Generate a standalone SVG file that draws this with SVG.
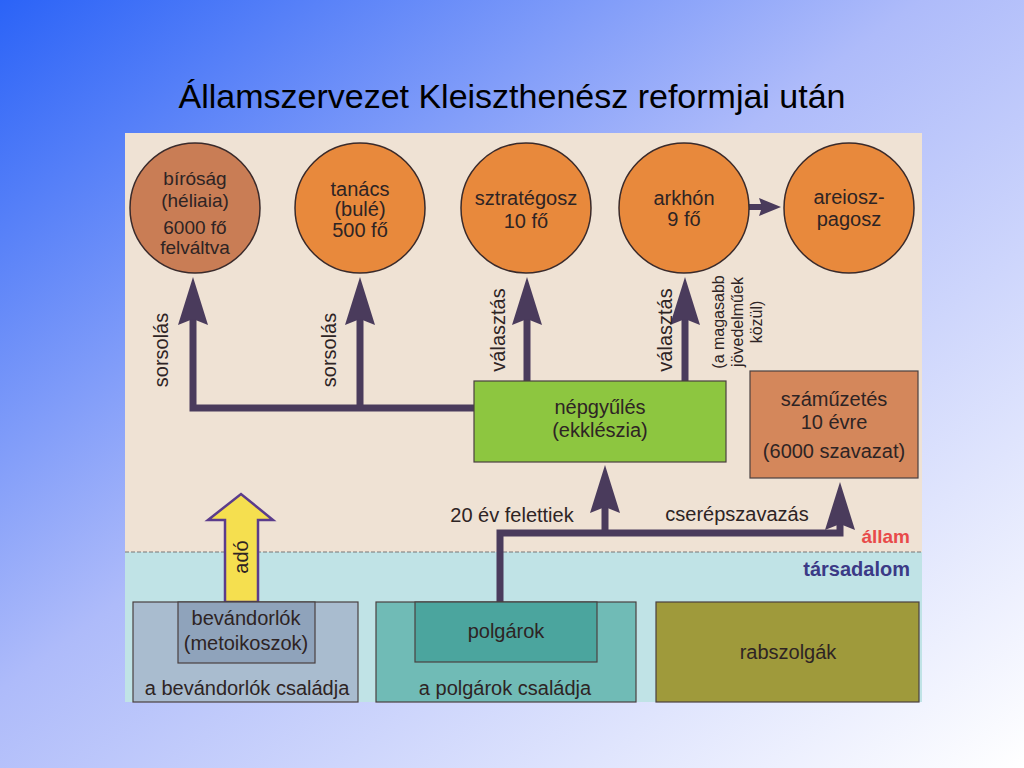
<svg xmlns="http://www.w3.org/2000/svg" width="1024" height="768" viewBox="0 0 1024 768">
<style>
text{font-family:"Liberation Sans",Arial,sans-serif;fill:#2e2424;text-anchor:middle}
.t{font-size:20px}
.u{font-size:19px}
.s{font-size:16px}
.c{stroke:#3a2a2a;stroke-width:1.5}
.b{stroke:#4a4040;stroke-width:1.2}
.w{fill:none;stroke:#4a3b5c;stroke-width:7;stroke-linejoin:miter}
</style>
<defs>
<linearGradient id="bg" x1="0" y1="0" x2="1" y2="1">
<stop offset="0" stop-color="#2b63f7"/>
<stop offset="0.45" stop-color="#aebbfa"/>
<stop offset="1" stop-color="#ffffff"/>
</linearGradient>
<marker id="ah" viewBox="0 0 48 30" refX="28" refY="15" markerWidth="48" markerHeight="30" markerUnits="userSpaceOnUse" orient="auto">
<path d="M0,0 L48,15 L0,30 L6,15 z" fill="#4a3b5c"/>
</marker>
<marker id="ahs" viewBox="0 0 22 18" refX="12" refY="9" markerWidth="22" markerHeight="18" markerUnits="userSpaceOnUse" orient="auto">
<path d="M0,0 L22,9 L0,18 L3,9 z" fill="#4a3b5c"/>
</marker>
</defs>
<rect width="1024" height="768" fill="url(#bg)"/>
<text x="512" y="108" style="font-size:34px;fill:#000">Államszervezet Kleiszthenész reformjai után</text>

<g id="panel">
<rect x="125" y="133" width="797" height="569" fill="#efe2d4"/>
<rect x="125" y="552" width="797" height="150" fill="#c0e3e6"/>
<line x1="125" y1="552" x2="922" y2="552" stroke="#777" stroke-width="1" stroke-dasharray="4 2"/>
<text x="910" y="543" style="text-anchor:end;font-size:19px;font-weight:bold;fill:#e84a4a">állam</text>
<text x="910" y="576" style="text-anchor:end;font-size:20px;font-weight:bold;fill:#3b3a86">társadalom</text>
</g>

<g id="connectors">
<path class="w" d="M474,408 H193 V297" marker-end="url(#ah)"/>
<path class="w" d="M360,408 V297" marker-end="url(#ah)"/>
<path class="w" d="M527,381 V297" marker-end="url(#ah)"/>
<path class="w" d="M685,381 V297" marker-end="url(#ah)"/>
<path class="w" d="M749,207 H771" style="stroke-width:6" marker-end="url(#ahs)"/>
<path class="w" d="M500,602 V533 H840 V502" marker-end="url(#ah)"/>
<path class="w" d="M605,533 V485" marker-end="url(#ah)"/>
<text class="t" transform="translate(168,350) rotate(-90)">sorsolás</text>
<text class="t" transform="translate(336,350) rotate(-90)">sorsolás</text>
<text class="t" transform="translate(505,330) rotate(-90)">választás</text>
<text class="t" transform="translate(672,330) rotate(-90)">választás</text>
<text class="s" transform="translate(724,322) rotate(-90)">(a magasabb</text>
<text class="s" transform="translate(743,322) rotate(-90)">jövedelműek</text>
<text class="s" transform="translate(762,322) rotate(-90)">közül)</text>
<text class="t" x="512" y="522">20 év felettiek</text>
<text class="t" x="737" y="521">cserépszavazás</text>
</g>

<g id="ado">
<polygon points="225,602 225,520 208,520 241,494 273,520 258,520 258,602" fill="#f5df4f" stroke="#5b3c8c" stroke-width="2.5"/>
<text class="t" transform="translate(248,557) rotate(-90)">adó</text>
</g>

<g id="birosag">
<circle class="c" cx="195" cy="208" r="65" fill="#c97d55"/>
<text class="u" x="195" y="185">bíróság</text>
<text class="u" x="195" y="207">(héliaia)</text>
<text class="u" x="195" y="234">6000 fő</text>
<text class="u" x="195" y="254">felváltva</text>
</g>
<g id="tanacs">
<circle class="c" cx="360" cy="208" r="65" fill="#e8893c"/>
<text class="t" x="360" y="196">tanács</text>
<text class="t" x="360" y="216">(bulé)</text>
<text class="t" x="360" y="237">500 fő</text>
</g>
<g id="sztrategosz">
<circle class="c" cx="526" cy="208" r="65" fill="#e8893c"/>
<text class="t" x="526" y="205">sztratégosz</text>
<text class="t" x="526" y="228">10 fő</text>
</g>
<g id="arkhon">
<circle class="c" cx="684" cy="208" r="65" fill="#e8893c"/>
<text class="t" x="684" y="205">arkhón</text>
<text class="t" x="684" y="226">9 fő</text>
</g>
<g id="areioszpagosz">
<circle class="c" cx="849" cy="208" r="65" fill="#e8893c"/>
<text class="t" x="849" y="204">areiosz-</text>
<text class="t" x="849" y="226">pagosz</text>
</g>

<g id="nepgyules">
<rect class="b" x="474" y="381" width="252" height="81" fill="#8dc640"/>
<text class="t" x="600" y="414">népgyűlés</text>
<text class="t" x="600" y="437">(ekklészia)</text>
</g>
<g id="szamuzetes">
<rect class="b" x="750" y="371" width="168" height="107" fill="#d4875b"/>
<text class="t" x="834" y="406">száműzetés</text>
<text class="t" x="834" y="429">10 évre</text>
<text class="t" x="834" y="458">(6000 szavazat)</text>
</g>

<g id="bevandorlok-csaladja">
<rect class="b" x="133" y="602" width="225" height="100" fill="#a9bccf"/>
<text class="t" x="247" y="695">a bevándorlók családja</text>
</g>
<g id="bevandorlok">
<rect class="b" x="178" y="602" width="137" height="61" fill="#8fa3bb"/>
<text class="t" x="246" y="625">bevándorlók</text>
<text class="t" x="246" y="650">(metoikoszok)</text>
</g>
<g id="polgarok-csaladja">
<rect class="b" x="376" y="602" width="260" height="100" fill="#70bbb6"/>
<text class="t" x="505" y="695">a polgárok családja</text>
</g>
<g id="polgarok">
<rect class="b" x="415" y="602" width="182" height="60" fill="#4ba59e"/>
<text class="t" x="506" y="638">polgárok</text>
</g>
<g id="rabszolgak">
<rect class="b" x="656" y="602" width="263" height="100" fill="#9f9a3b"/>
<text class="t" x="788" y="659">rabszolgák</text>
</g>
</svg>
